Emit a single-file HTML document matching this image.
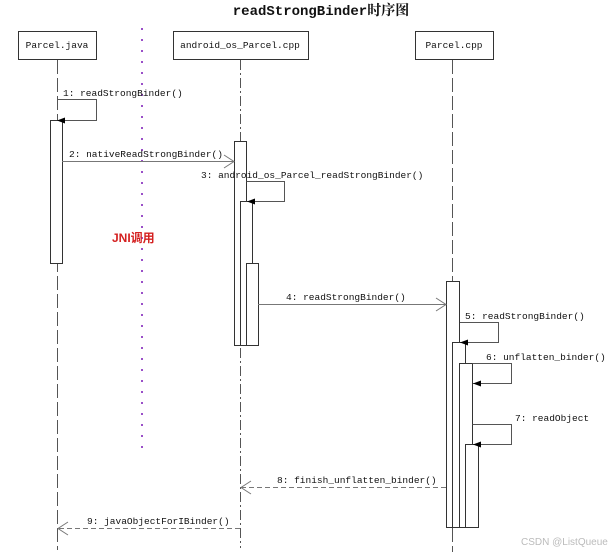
<!DOCTYPE html>
<html><head><meta charset="utf-8"><style>
html,body{margin:0;padding:0;background:#fff;}
svg{display:block;}
text{font-family:"Liberation Mono","Noto Sans CJK SC",monospace;font-size:9.5px;fill:#111;}
</style></head><body>
<svg width="616" height="552" viewBox="0 0 616 552" xmlns="http://www.w3.org/2000/svg">
<text x="321" y="15" text-anchor="middle" style="font-family:'Liberation Mono','Noto Serif CJK SC',monospace;font-size:14px;font-weight:bold;">readStrongBinder时序图</text>
<!-- boxes -->
<g fill="#fff" stroke="#333" stroke-width="1">
<rect x="18.5" y="31.5" width="78" height="28"/>
<rect x="173.5" y="31.5" width="135" height="28"/>
<rect x="415.5" y="31.5" width="78" height="28"/>
</g>
<text x="57" y="48" text-anchor="middle">Parcel.java</text>
<text x="240" y="48" text-anchor="middle">android_os_Parcel.cpp</text>
<text x="454" y="48" text-anchor="middle">Parcel.cpp</text>
<!-- lifelines -->
<g stroke="#555" stroke-width="1" fill="none">
<line x1="57.5" y1="60" x2="57.5" y2="550" stroke-dasharray="14,4"/>
<line x1="240.5" y1="60" x2="240.5" y2="548" stroke-dasharray="10,3,2,3"/>
<line x1="452.5" y1="60" x2="452.5" y2="552" stroke-dasharray="14,4"/>
</g>
<line x1="142" y1="28" x2="142" y2="455" stroke="#9a4fc8" stroke-width="2" stroke-dasharray="2,9"/>
<text x="112" y="242" style="font-family:'Liberation Sans','Noto Sans CJK SC',sans-serif;font-size:12px;font-weight:bold;fill:#d42020;">JNI调用</text>
<!-- activations -->
<g fill="#fff" stroke="#333" stroke-width="1">
<rect x="50.5" y="120.5" width="12" height="143"/>
<rect x="234.5" y="141.5" width="12" height="204"/>
<rect x="240.5" y="201.5" width="12" height="144"/>
<rect x="246.5" y="263.5" width="12" height="82"/>
<rect x="446.5" y="281.5" width="13" height="246"/>
<rect x="452.5" y="342.5" width="13" height="185"/>
<rect x="459.5" y="363.5" width="13" height="164"/>
<rect x="465.5" y="444.5" width="13" height="83"/>
</g>
<!-- self loops -->
<g fill="none" stroke="#555" stroke-width="1">
<polyline points="57.5,99.5 96.5,99.5 96.5,120.5 62,120.5"/>
<polyline points="246.5,181.5 284.5,181.5 284.5,201.5 252,201.5"/>
<polyline points="460,322.5 498.5,322.5 498.5,342.5 465,342.5"/>
<polyline points="472.5,363.5 511.5,363.5 511.5,383.5 473,383.5"/>
<polyline points="472.5,424.5 511.5,424.5 511.5,444.5 478,444.5"/>
</g>
<g fill="#000">
<polygon points="57,120.5 65,117.5 65,123.5"/>
<polygon points="247,201.5 255,198.5 255,204.5"/>
<polygon points="460,342.5 468,339.5 468,345.5"/>
<polygon points="473,383.5 481,380.5 481,386.5"/>
<polygon points="473,444.5 481,441.5 481,447.5"/>
</g>
<!-- messages -->
<g fill="none" stroke="#777" stroke-width="1">
<line x1="62" y1="161.5" x2="234" y2="161.5"/>
<polyline points="224,155 234,161.5 224,168"/>
<line x1="258" y1="304.5" x2="446" y2="304.5"/>
<polyline points="436,298 446,304.5 436,311"/>
<line x1="446" y1="487.5" x2="241" y2="487.5" stroke-dasharray="5,3"/>
<polyline points="251,481 241,487.5 251,494"/>
<line x1="240" y1="528.5" x2="58" y2="528.5" stroke-dasharray="5,3"/>
<polyline points="68,522 58,528.5 68,535"/>
</g>
<text x="63" y="96">1: readStrongBinder()</text>
<text x="69" y="157">2: nativeReadStrongBinder()</text>
<text x="201" y="178">3: android_os_Parcel_readStrongBinder()</text>
<text x="286" y="300">4: readStrongBinder()</text>
<text x="465" y="319">5: readStrongBinder()</text>
<text x="486" y="360">6: unflatten_binder()</text>
<text x="515" y="421">7: readObject</text>
<text x="277" y="483">8: finish_unflatten_binder()</text>
<text x="87" y="524">9: javaObjectForIBinder()</text>
<text x="521" y="545" style="font-family:'Liberation Sans',sans-serif;font-size:10px;fill:#bbb;">CSDN @ListQueue</text>
</svg>
</body></html>
